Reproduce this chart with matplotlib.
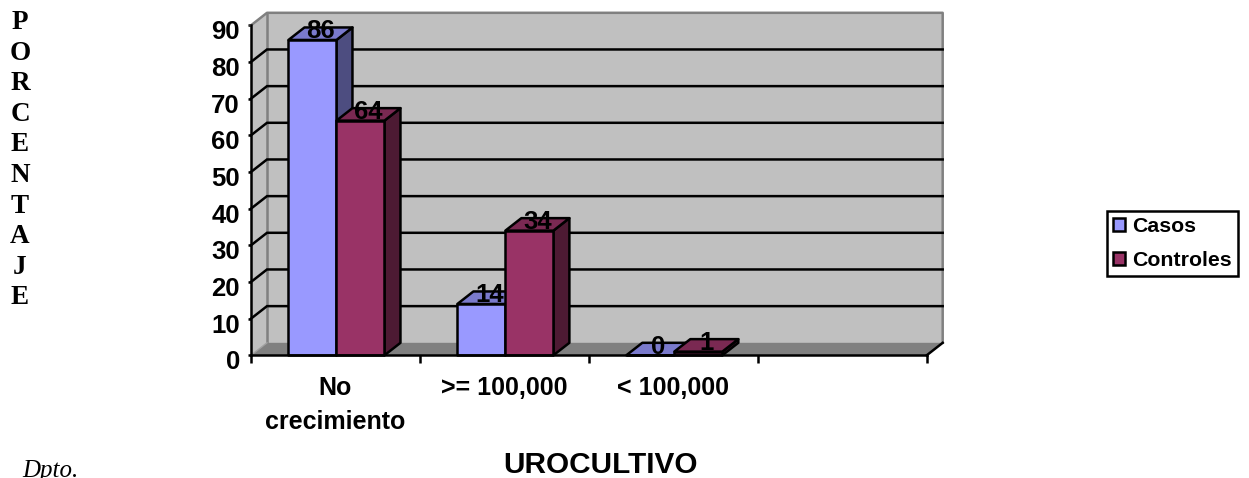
import matplotlib
matplotlib.use("Agg")
import matplotlib.pyplot as plt
from matplotlib.patches import Polygon, Patch
from matplotlib.transforms import Affine2D

W, H = 1249, 478

categories = ["No\ncrecimiento", ">= 100,000", "< 100,000", ""]
casos = [86, 14, 0]
controles = [64, 34, 1]
y_ticks = list(range(0, 100, 10))
y_letters = list("PORCENTAJE")

plt.rcParams["font.family"] = ["Liberation Sans"]
plt.rcParams["font.weight"] = "bold"

LW = 1.8

fig = plt.figure(figsize=(W / 100, H / 100), dpi=100, facecolor="white")
ax = fig.add_axes([251 / W, 1 - 355.3 / H, 675.7 / W, 330 / H])
ax.set_xlim(0, len(categories))
ax.set_ylim(0, 90)
ax.patch.set_visible(False)
for side in ("top", "right"):
    ax.spines[side].set_visible(False)
for side in ("left", "bottom"):
    ax.spines[side].set_linewidth(LW)
    ax.spines[side].set_zorder(6)

# Pixel shift of the rear plane and of the bar depth, for the pseudo-3D look
DX, DY = 16, 12.5
back = ax.transData + Affine2D().translate(DX, DY)
xmax = len(categories)
off_x = DX / (675.7 / xmax)
off_v = DY / (330 / 90)


def prism(x0, x1, value, front, top, side, z):
    """Draw one box: side and top faces shifted in depth, then the front face."""
    kw = dict(closed=True, edgecolor="black", linewidth=LW, clip_on=False, zorder=z, joinstyle="round")
    ax.add_patch(Polygon([(x1, 0), (x1 + off_x, off_v), (x1 + off_x, value + off_v), (x1, value)], facecolor=side, **kw))
    ax.add_patch(Polygon([(x0, value), (x0 + off_x, value + off_v), (x1 + off_x, value + off_v), (x1, value)], facecolor=top, **kw))
    ax.add_patch(Polygon([(x0, 0), (x0, value), (x1, value), (x1, 0)], facecolor=front, **kw))


# Walls and floor
wall_kw = dict(closed=True, clip_on=False, linewidth=0)
ax.add_patch(Polygon([(0, 0), (xmax, 0), (xmax, 90), (0, 90)], facecolor="#c0c0c0", transform=back, zorder=1, **wall_kw))
ax.add_patch(Polygon([(0, 0), (off_x, off_v), (off_x, 90 + off_v), (0, 90)], facecolor="#c0c0c0", zorder=1, **wall_kw))
ax.add_patch(Polygon([(0, 0), (xmax, 0), (xmax + off_x, off_v), (off_x, off_v)], facecolor="#808080", zorder=1.5, **wall_kw))

# Grey outline of the rear plane
ax.plot([0, off_x, xmax + off_x, xmax + off_x], [90, 90 + off_v, 90 + off_v, off_v],
        color="#808080", lw=LW, clip_on=False, zorder=2)
ax.plot([off_x, off_x], [off_v, 90 + off_v], color="#808080", lw=LW, clip_on=False, zorder=2)
ax.plot([0, off_x], [0, off_v], color="#a0a0a0", lw=1, clip_on=False, zorder=2)
ax.plot([xmax, xmax + off_x], [0, off_v], color="black", lw=LW, clip_on=False, zorder=2)

# Gridlines on the rear plane, running round onto the left wall
for v in y_ticks[1:-1]:
    ax.plot([0, off_x, xmax + off_x], [v, v + off_v, v + off_v], color="black", lw=LW,
            clip_on=False, zorder=2, solid_joinstyle="miter")

# Bars
bar_w = 48 / (675.7 / xmax)
nudge = 1 / (675.7 / xmax)
for i, (a, b) in enumerate(zip(casos, controles)):
    c = i + 0.5 + nudge
    prism(c - bar_w, c, a, "#9999ff", "#7a7acc", "#4d4d80", 3 + i)
    prism(c, c + bar_w, b, "#993366", "#7a2952", "#4d1a33", 3.5 + i)

# Value labels sit at mid depth just above each box
for i, (a, b) in enumerate(zip(casos, controles)):
    c = i + 0.5 + nudge
    for x, v in ((c - bar_w / 2, a), (c + bar_w / 2, b)):
        ax.annotate(str(v), xy=(x, v), xytext=(8 * 0.72, 8.5 * 0.72), textcoords="offset points",
                    ha="center", va="center", fontsize=18.5, color="black", zorder=10,
                    annotation_clip=False)

# Axes
ax.set_yticks(y_ticks)
ax.tick_params(axis="y", length=2, width=LW, pad=6, labelsize=18.5)
label_shift = Affine2D().translate(0, -4.5)
for t in ax.get_yticklabels():
    t.set_transform(t.get_transform() + label_shift)
ax.set_xticks(range(xmax + 1))
ax.set_xticklabels([])
ax.tick_params(axis="x", which="major", length=6, width=LW)
ax.set_xticks([i + 0.5 for i in range(xmax)], labels=categories, minor=True)
ax.tick_params(axis="x", which="minor", length=0, pad=15, labelsize=18)
for t in ax.get_xticklabels(minor=True):
    t.set_linespacing(1.5)

ax.set_xlabel("UROCULTIVO", fontsize=21.4, fontweight="bold")
ax.xaxis.set_label_coords((600.5 - 251) / 675.7, (355.3 - 465) / 330)
ax.xaxis.label.set_verticalalignment("center")

# Stacked vertical title
for i, letter in enumerate(y_letters):
    fig.text(20 / W, 1 - (22.5 + i * 30.6) / H, letter, family="Liberation Serif", fontweight="bold",
             fontsize=19.5, ha="center", va="center", color="black")

fig.text(22 / W, 1 - 477 / H, "Dpto.", family="Liberation Serif", style="italic", fontweight="normal",
         fontsize=18, ha="left", va="baseline", color="black")

# Legend
handles = [Patch(facecolor="#9999ff", edgecolor="black", linewidth=LW),
           Patch(facecolor="#993366", edgecolor="black", linewidth=LW)]
leg = fig.legend(handles, ["Casos", "Controles"], loc="upper left",
                 bbox_to_anchor=(1107 / W, 1 - 211 / H), bbox_transform=fig.transFigure,
                 fontsize=15.3, frameon=True, fancybox=False, framealpha=1, edgecolor="black",
                 handlelength=0.55, handleheight=0.55, handletextpad=0.35, labelspacing=0.7,
                 borderpad=0.28, borderaxespad=0)
leg.get_frame().set_linewidth(LW)

fig.savefig("out.png", dpi=100, facecolor="white")
